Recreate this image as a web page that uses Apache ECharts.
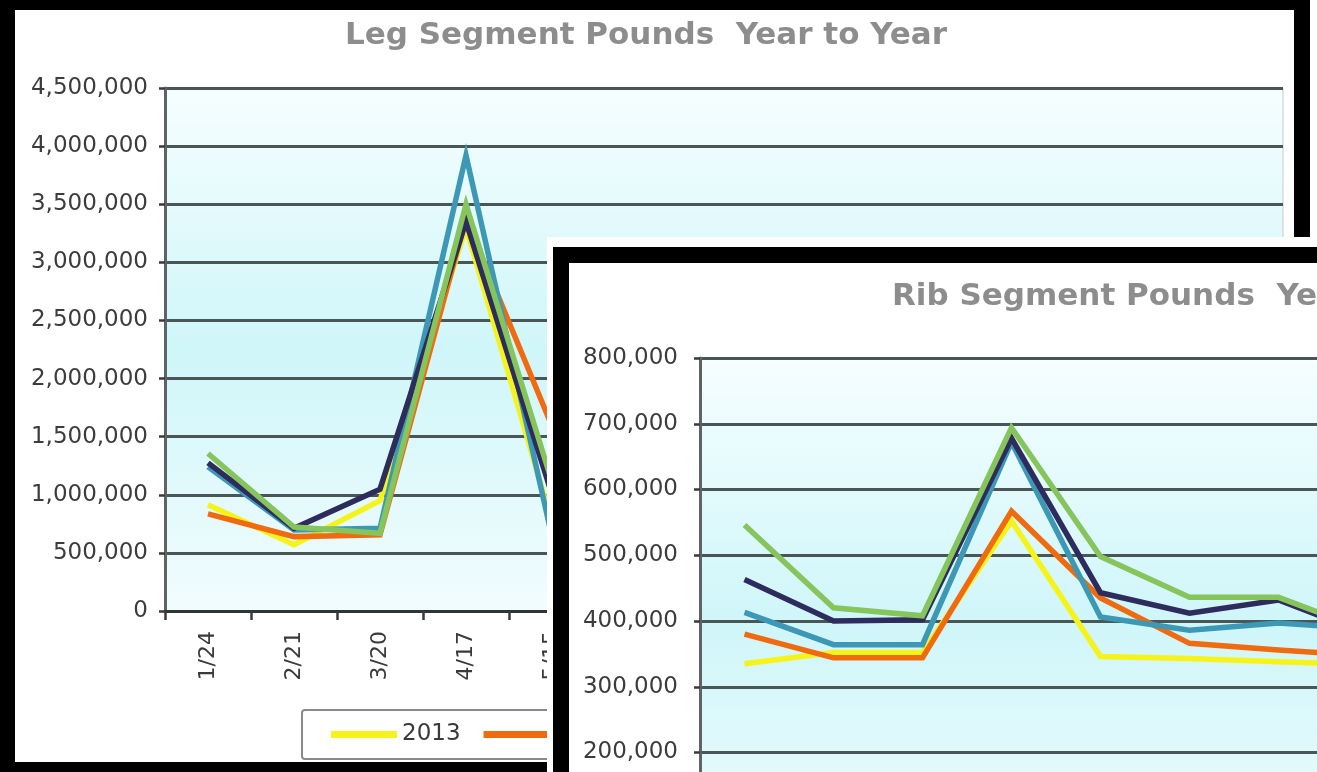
<!DOCTYPE html>
<html>
<head>
<meta charset="utf-8">
<title>Segment Pounds Year to Year</title>
<script src="https://cdn.jsdelivr.net/npm/echarts@6/dist/echarts.min.js"></script>
<style>
  html, body { margin: 0; padding: 0; background: #fff; overflow: hidden; width: 1317px; height: 772px; }
  .frame { position: absolute; box-sizing: border-box; border: 16px solid #000; background: #fff; }
  #legFrame { left: 0; top: -6px; width: 1310px; height: 784px; border-left-width: 15px; }
  #ribOuter { position: absolute; left: 547px; top: 237px; border-left: 6px solid #fff; border-top: 10px solid #fff; background: #fff; }
  #ribFrame { position: relative; width: 1333px; height: 804px; }
  #leg { width: 1279px; height: 752px; }
  #rib { width: 1301px; height: 772px; }
</style>
</head>
<body>
<div id="legFrame" class="frame"><div id="leg"></div></div>
<div id="ribOuter"><div id="ribFrame" class="frame"><div id="rib"></div></div></div>
<script>
// Four-week periods through the year
const periods = ['1/24', '2/21', '3/20', '4/17', '5/15', '6/12', '7/10', '8/7', '9/4', '10/2', '10/30', '11/27', '12/25'];
const years = ['2013', '2014', '2015', '2016', '2017'];
const yearColors = ['#f5f31a', '#f06a10', '#3d98b6', '#2e2c5c', '#86c45c'];

// Leg segment pounds by period
const leg2013 = [915000, 570000, 950000, 3300000, 760000, null, null, null, null, null, null, null, null];
const leg2014 = [835000, 640000, 655000, 3380000, 1590000, null, null, null, null, null, null, null, null];
const leg2015 = [1240000, 697000, 712000, 3920000, 640000, null, null, null, null, null, null, null, null];
const leg2016 = [1275000, 712000, 1048000, 3350000, 1000000, null, null, null, null, null, null, null, null];
const leg2017 = [1355000, 722000, 669000, 3500000, 1110000, null, null, null, null, null, null, null, null];
const legTicks = { min: 0, max: 4500000, interval: 500000 };

// Rib segment pounds by period
const rib2013 = [335000, 352000, 352000, 552000, 346000, 343000, 338000, 334000, null, null, null, null, null];
const rib2014 = [380000, 344000, 344000, 567000, 435000, 366000, 356000, 347000, null, null, null, null, null];
const rib2015 = [413000, 364000, 364000, 672000, 406000, 386000, 397000, 388000, null, null, null, null, null];
const rib2016 = [463000, 400000, 402000, 678000, 443000, 412000, 432000, 380000, null, null, null, null, null];
const rib2017 = [546000, 420000, 408000, 694000, 498000, 436000, 436000, 385000, null, null, null, null, null];
const ribTicks = { min: 0, max: 800000, interval: 100000 };

const FONT = 'DejaVu Sans';

function thousands(v) {
  return String(v).replace(/\B(?=(\d{3})+(?!\d))/g, ',');
}

function buildOption(cfg) {
  return {
    animation: false,
    title: {
      text: cfg.title,
      left: cfg.titleLeft,
      top: cfg.titleTop,
      padding: 0,
      textStyle: { fontFamily: FONT, fontWeight: 'bold', fontSize: 31, color: '#8d8d8d' }
    },
    legend: {
      data: years,
      left: cfg.legendLeft,
      top: cfg.legendTop,
      orient: 'horizontal',
      icon: 'rect',
      itemWidth: 66,
      itemHeight: 7,
      itemGap: 23,
      padding: [13, 29, 13, 29],
      borderColor: '#8a8a8a',
      borderWidth: 2,
      borderRadius: 3,
      backgroundColor: '#fff',
      textStyle: { fontFamily: FONT, fontSize: 23, color: '#3a3a3a' }
    },
    grid: {
      left: cfg.gridLeft, top: cfg.gridTop, width: cfg.gridWidth, height: cfg.gridHeight,
      show: true,
      borderColor: '#c4cccc',
      borderWidth: 1,
      backgroundColor: new echarts.graphic.LinearGradient(0, 0, 0, 1, [
        { offset: 0, color: '#f6feff' },
        { offset: 0.5, color: '#cff6f9' },
        { offset: 1, color: '#f2fcfe' }
      ])
    },
    xAxis: {
      type: 'category',
      data: periods,
      boundaryGap: true,
      axisLine: { show: true, lineStyle: { color: '#2f3535', width: 3 } },
      axisTick: { show: true, length: 9, lineStyle: { color: '#3a3a3a', width: 2.5 } },
      axisLabel: { rotate: 90, margin: 20, fontFamily: FONT, fontSize: 22, color: '#3a3a3a', interval: 0 },
      splitLine: { show: false }
    },
    yAxis: {
      type: 'value',
      min: cfg.ticks.min,
      max: cfg.ticks.max,
      interval: cfg.ticks.interval,
      axisLine: { show: true, lineStyle: { color: '#5e6464', width: 3 } },
      axisTick: { show: true, length: 6, lineStyle: { color: '#3a3a3a', width: 2.5 } },
      axisLabel: { margin: cfg.labelMargin, fontFamily: FONT, fontSize: 23, color: '#3c3c3c', formatter: thousands },
      splitLine: { show: true, lineStyle: { color: '#4a5656', width: 3 } }
    },
    series: cfg.values.map((vals, i) => ({
      name: years[i],
      type: 'line',
      data: vals,
      showSymbol: false,
      symbol: 'none',
      connectNulls: false,
      lineStyle: { color: yearColors[i], width: 5.5, join: 'miter' },
      itemStyle: { color: yearColors[i] }
    }))
  };
}

const legChart = echarts.init(document.getElementById('leg'), null, { renderer: 'canvas' });
legChart.setOption(buildOption({
  title: 'Leg Segment Pounds  Year to Year',
  titleLeft: 330, titleTop: 10,
  legendLeft: 287, legendTop: 700,
  gridLeft: 150, gridTop: 78, gridWidth: 1118, gridHeight: 523,
  labelMargin: 17,
  ticks: legTicks,
  values: [leg2013, leg2014, leg2015, leg2016, leg2017]
}));

const ribChart = echarts.init(document.getElementById('rib'), null, { renderer: 'canvas' });
ribChart.setOption(buildOption({
  title: 'Rib Segment Pounds  Year to Year',
  titleLeft: 323, titleTop: 18,
  legendLeft: 280, legendTop: 720,
  gridLeft: 131, gridTop: 95, gridWidth: 1157, gridHeight: 526,
  labelMargin: 22,
  ticks: ribTicks,
  values: [rib2013, rib2014, rib2015, rib2016, rib2017]
}));
</script>
</body>
</html>
